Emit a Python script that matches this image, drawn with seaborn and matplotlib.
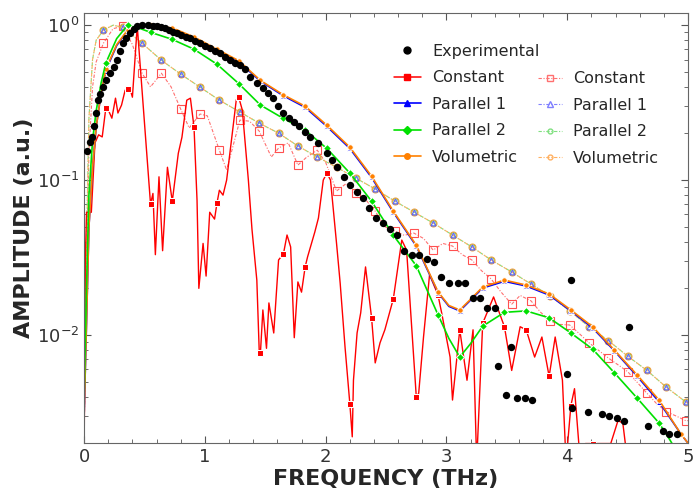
import numpy as np
import matplotlib
matplotlib.use('Agg')
import matplotlib.pyplot as plt
import seaborn as sns
from matplotlib.lines import Line2D

# marker positions (THz) of the model curves
mark_solid = [0.18, 0.36, 0.55, 0.73, 0.91, 1.10, 1.28, 1.46, 1.65, 1.83, 2.01, 2.20, 2.38, 2.56,
              2.75, 2.93, 3.11, 3.30, 3.48, 3.66, 3.85, 4.03, 4.21, 4.39, 4.58, 4.76, 4.94]
mark_dash = [0.16, 0.32, 0.48, 0.64, 0.80, 0.96, 1.12, 1.29, 1.45, 1.61, 1.77, 1.93, 2.09, 2.25, 2.41,
             2.57, 2.73, 2.89, 3.05, 3.21, 3.37, 3.54, 3.70, 3.86, 4.02, 4.18, 4.34, 4.50, 4.66, 4.82, 4.98]

# Experimental
exp_x = [0.025, 0.045, 0.066, 0.083, 0.10, 0.116, 0.135, 0.157, 0.185, 0.215, 0.245, 0.273, 0.30, 0.323,
         0.35, 0.381, 0.41, 0.439, 0.48, 0.53, 0.57, 0.604, 0.64, 0.67, 0.70, 0.737, 0.77, 0.80, 0.84,
         0.877, 0.92, 0.96, 1.0, 1.043, 1.085, 1.126, 1.17, 1.209, 1.25, 1.291, 1.33, 1.374, 1.432,
         1.482, 1.523, 1.565, 1.606, 1.647, 1.697, 1.74, 1.78, 1.83, 1.871, 1.937, 2.012, 2.05, 2.094,
         2.15, 2.20, 2.26, 2.31, 2.36, 2.417, 2.475, 2.533, 2.591, 2.649, 2.715, 2.773, 2.839, 2.897,
         2.955, 3.02, 3.093, 3.154, 3.223, 3.278, 3.339, 3.402, 3.43, 3.49, 3.532, 3.587, 3.65, 3.71,
         3.995, 4.03, 4.042, 4.169, 4.285, 4.349, 4.41, 4.47, 4.515, 4.67, 4.79, 4.845, 4.906]
exp_y = [0.155, 0.175, 0.19, 0.223, 0.27, 0.328, 0.36, 0.398, 0.44, 0.49, 0.54, 0.594, 0.68, 0.765,
         0.83, 0.888, 0.94, 0.986, 1.0, 1.0, 0.99, 0.985, 0.97, 0.956, 0.93, 0.90, 0.89, 0.87, 0.84,
         0.824, 0.79, 0.765, 0.735, 0.71, 0.685, 0.66, 0.625, 0.594, 0.572, 0.552, 0.52, 0.46, 0.423,
         0.392, 0.364, 0.338, 0.30, 0.27, 0.251, 0.237, 0.223, 0.205, 0.189, 0.173, 0.149, 0.135, 0.121,
         0.105, 0.093, 0.084, 0.0765, 0.066, 0.057, 0.053, 0.048, 0.044, 0.035, 0.033, 0.0328, 0.031, 0.0295,
         0.0237, 0.0216, 0.0218, 0.0218, 0.0172, 0.0172, 0.015, 0.015, 0.0063, 0.0041, 0.0083, 0.0039, 0.0039, 0.0038,
         0.0056, 0.0226, 0.0034, 0.0032, 0.0031, 0.0030, 0.0029, 0.0028, 0.0113, 0.0026, 0.0024, 0.0023, 0.0023]

# Constant (solid)
const_x = [0.0, 0.01, 0.02, 0.06, 0.09, 0.12, 0.15, 0.18, 0.20, 0.23, 0.26, 0.28, 0.31, 0.34, 0.36, 0.38,
           0.40, 0.44, 0.55, 0.57, 0.59, 0.62, 0.65, 0.69, 0.73, 0.78, 0.81, 0.85, 0.88, 0.91, 0.935, 0.95,
           0.985, 1.01, 1.04, 1.08, 1.10, 1.12, 1.15, 1.18, 1.23, 1.26, 1.28, 1.31, 1.36, 1.39, 1.43, 1.45,
           1.46, 1.48, 1.51, 1.53, 1.57, 1.61, 1.65, 1.68, 1.71, 1.74, 1.77, 1.80, 1.83, 1.85, 1.91, 1.94,
           1.98, 2.01, 2.04, 2.09, 2.12, 2.16, 2.20, 2.22, 2.23, 2.26, 2.29, 2.33, 2.38, 2.41, 2.45, 2.49,
           2.56, 2.63, 2.67, 2.75, 2.77, 2.81, 2.86, 2.93, 2.96, 3.03, 3.05, 3.11, 3.17, 3.22, 3.25, 3.30,
           3.39, 3.48, 3.54, 3.61, 3.66, 3.73, 3.79, 3.85, 3.90, 3.96, 3.99, 4.03, 4.06, 4.10, 4.15, 4.21,
           4.36, 4.42, 4.46, 4.50]
const_y = [0.0015, 0.03, 0.062, 0.062, 0.174, 0.196, 0.19, 0.292, 0.284, 0.251, 0.338, 0.271, 0.305, 0.381,
           0.386, 0.39, 0.343, 0.99, 0.07, 0.082, 0.033, 0.105, 0.035, 0.121, 0.073, 0.149, 0.189, 0.328,
           0.338, 0.22, 0.074, 0.020, 0.039, 0.024, 0.062, 0.056, 0.071, 0.086, 0.080, 0.10, 0.21, 0.33,
           0.343, 0.283, 0.10, 0.048, 0.0226, 0.0078, 0.0077, 0.0145, 0.0082, 0.0161, 0.0103, 0.0305,
           0.0333, 0.0442, 0.037, 0.0096, 0.022, 0.0189, 0.0275, 0.0319, 0.0462, 0.0569, 0.10, 0.111,
           0.10, 0.039, 0.0216, 0.0084, 0.0036, 0.0022, 0.0051, 0.0103, 0.0139, 0.0275, 0.0129, 0.0066,
           0.0089, 0.0108, 0.0171, 0.041, 0.0353, 0.0040, 0.0042, 0.0097, 0.0245, 0.0181, 0.0139, 0.0072,
           0.0038, 0.0108, 0.0051, 0.0108, 0.0015, 0.0119, 0.0176, 0.0113, 0.0059, 0.0113, 0.0108, 0.0072,
           0.0097, 0.0054, 0.0097, 0.0051, 0.0015, 0.0035, 0.0045, 0.0018, 0.00199, 0.00199, 0.00199,
           0.0028, 0.0027, 0.0015]

# Parallel 1 / Volumetric / Parallel 2 (solid)
vol_x = [0.0, 0.02, 0.04, 0.07, 0.10, 0.14, 0.18, 0.27, 0.36, 0.45, 0.55, 0.73, 0.91, 1.10, 1.28, 1.46,
         1.65, 1.83, 2.01, 2.20, 2.38, 2.56, 2.75, 2.93, 3.02, 3.11, 3.20, 3.30, 3.48, 3.66, 3.85, 4.03,
         4.21, 4.39, 4.58, 4.76, 4.94, 5.0]
vol_y = [0.003, 0.012, 0.05, 0.12, 0.22, 0.36, 0.52, 0.75, 0.93, 0.99, 1.0, 0.96, 0.84, 0.70, 0.59,
         0.44, 0.355, 0.30, 0.226, 0.163, 0.106, 0.063, 0.038, 0.019, 0.0155, 0.0145, 0.017, 0.0204,
         0.0226, 0.021, 0.0184, 0.0145, 0.0113, 0.008, 0.0055, 0.0038, 0.0023, 0.002]
par1_y = [0.003, 0.012, 0.05, 0.12, 0.22, 0.36, 0.51, 0.74, 0.92, 0.98, 0.99, 0.95, 0.83, 0.69, 0.58,
          0.435, 0.35, 0.295, 0.222, 0.16, 0.104, 0.062, 0.0375, 0.0188, 0.0153, 0.0143, 0.0168, 0.0201,
          0.0222, 0.0207, 0.0181, 0.0143, 0.0111, 0.0079, 0.0054, 0.0037, 0.0023, 0.002]
par2_x = [0.0, 0.02, 0.04, 0.07, 0.10, 0.14, 0.18, 0.27, 0.36, 0.45, 0.55, 0.73, 0.91, 1.10, 1.28, 1.46,
          1.65, 1.83, 2.01, 2.20, 2.38, 2.56, 2.75, 2.93, 3.02, 3.11, 3.20, 3.30, 3.48, 3.66, 3.85, 4.03,
          4.21, 4.39, 4.58, 4.76, 4.85, 4.90]
par2_y = [0.004, 0.02, 0.08, 0.18, 0.28, 0.42, 0.57, 0.82, 1.0, 0.96, 0.9, 0.81, 0.70, 0.56, 0.42,
          0.305, 0.25, 0.21, 0.16, 0.111, 0.073, 0.044, 0.028, 0.0135, 0.0095, 0.0072, 0.0088, 0.0114,
          0.014, 0.0143, 0.0129, 0.0103, 0.0081, 0.0057, 0.0039, 0.0027, 0.0021, 0.0018]

# dashed set
dconst_x = [0.0, 0.02, 0.04, 0.07, 0.10, 0.16, 0.24, 0.32, 0.40, 0.48, 0.55, 0.64, 0.72, 0.80, 0.87, 0.96,
            1.02, 1.12, 1.18, 1.29, 1.37, 1.45, 1.55, 1.61, 1.69, 1.77, 1.84, 1.93, 2.0, 2.09, 2.17, 2.25,
            2.33, 2.41, 2.49, 2.57, 2.65, 2.73, 2.81, 2.89, 2.97, 3.05, 3.13, 3.21, 3.29, 3.37, 3.45, 3.54,
            3.61, 3.70, 3.78, 3.86, 3.94, 4.02, 4.10, 4.18, 4.34, 4.50, 4.66, 4.74, 4.82, 4.90, 4.98, 5.0]
dconst_y = [0.002, 0.03, 0.15, 0.4, 0.58, 0.765, 0.95, 0.985, 0.75, 0.49, 0.40, 0.49, 0.40, 0.287, 0.217,
            0.267, 0.26, 0.156, 0.116, 0.244, 0.24, 0.207, 0.141, 0.161, 0.174, 0.125, 0.14, 0.156, 0.13,
            0.085, 0.095, 0.082, 0.075, 0.063, 0.05, 0.047, 0.044, 0.0455, 0.042, 0.0353, 0.039, 0.0375,
            0.033, 0.0305, 0.026, 0.023, 0.019, 0.0158, 0.018, 0.0166, 0.014, 0.0123, 0.0117, 0.0116,
            0.0102, 0.0089, 0.0071, 0.0058, 0.0042, 0.0036, 0.0032, 0.0030, 0.0028, 0.0028]
dmod_x = [0.0, 0.02, 0.04, 0.07, 0.10, 0.16, 0.24, 0.32, 0.48, 0.64, 0.80, 0.96, 1.12, 1.29, 1.45, 1.61,
          1.77, 1.93, 2.09, 2.25, 2.41, 2.57, 2.73, 2.89, 3.05, 3.21, 3.37, 3.54, 3.70, 3.86, 4.02, 4.18,
          4.34, 4.50, 4.66, 4.82, 4.98, 5.0]
dmod_y = [0.003, 0.04, 0.25, 0.6, 0.8, 0.93, 1.0, 0.97, 0.765, 0.594, 0.483, 0.398, 0.328, 0.275, 0.233,
          0.201, 0.166, 0.141, 0.121, 0.103, 0.0875, 0.0733, 0.0622, 0.0528, 0.0442, 0.037, 0.0305,
          0.0255, 0.0213, 0.0179, 0.0143, 0.0113, 0.0092, 0.0073, 0.0059, 0.0046, 0.0037, 0.0036]


def mk(xs, marks):
    return [i for i, x in enumerate(xs) if np.isclose(x, marks).any()]


sns.set_style('ticks')
plt.rcParams['font.family'] = ['DejaVu Sans']
fig = plt.figure(figsize=(6.95, 4.98), dpi=100)
ax = fig.add_axes([0.121, 0.110, 0.869, 0.864])
ax.set_yscale('log')

dash = (0, (3, 1.5, 1, 1.5))
# dashed models
sns.lineplot(x=dconst_x, y=dconst_y, ax=ax, color='#ff7070', lw=0.8, linestyle=dash, marker='s',
             ms=6, mfc='none', mec='#ff5050', mew=0.8, markevery=mk(dconst_x, mark_dash),
             estimator=None, sort=False)
sns.lineplot(x=dmod_x, y=dmod_y, ax=ax, color='#80e080', lw=0.8, linestyle=dash, marker='o',
             ms=4, mfc='none', mec='#60d060', mew=0.8, markevery=mk(dmod_x, mark_dash),
             estimator=None, sort=False)
sns.lineplot(x=dmod_x, y=dmod_y, ax=ax, color='#ffb060', lw=0.8, linestyle=(2, (3, 1.5, 1, 1.5)),
             marker='o', ms=5, mfc='none', mec='#f0a040', mew=0.8, markevery=mk(dmod_x, mark_dash),
             estimator=None, sort=False)
sns.lineplot(x=dmod_x, y=dmod_y, ax=ax, color='#8080ff', lw=0.0, marker='^',
             ms=3.5, mfc='none', mec='#6060ff', mew=0.8, markevery=mk(dmod_x, mark_dash),
             estimator=None, sort=False)

# experimental
sns.scatterplot(x=exp_x, y=exp_y, ax=ax, color='black', s=28, linewidth=0, zorder=3)

# solid models
sns.lineplot(x=const_x, y=const_y, ax=ax, color='#ff0000', lw=1.0, marker='s', ms=5,
             markevery=mk(const_x, mark_solid), estimator=None, sort=False)
sns.lineplot(x=vol_x, y=par1_y, ax=ax, color='#0000ff', lw=1.2, marker='^', ms=4,
             markevery=mk(vol_x, mark_solid), estimator=None, sort=False)
sns.lineplot(x=vol_x, y=vol_y, ax=ax, color='#ff8000', lw=1.2, marker='o', ms=4,
             markevery=mk(vol_x, mark_solid), estimator=None, sort=False)
sns.lineplot(x=par2_x, y=par2_y, ax=ax, color='#00e000', lw=1.2, marker='D', ms=4,
             markevery=mk(par2_x, mark_solid), estimator=None, sort=False)

ax.set_xlim(0, 5)
ax.set_ylim(0.002, 1.2)
ax.set_xticks([0, 1, 2, 3, 4, 5])
ax.set_xticks(np.arange(0, 5.01, 0.2), minor=True)
ax.tick_params(which='both', direction='in', top=True, right=True, colors='#555555',
               labelcolor='#333333', labelsize=13)
ax.tick_params(which='major', length=5)
ax.tick_params(which='minor', length=3)
for s in ax.spines.values():
    s.set_color('#666666')
ax.set_xlabel('FREQUENCY (THz)', fontsize=16, fontweight='bold', labelpad=2)
ax.set_ylabel('AMPLITUDE (a.u.)', fontsize=16, fontweight='bold', labelpad=2)

h1 = [Line2D([], [], color='black', marker='o', ls='none', ms=5),
      Line2D([], [], color='#ff0000', marker='s', ms=5, lw=1.1),
      Line2D([], [], color='#0000ff', marker='^', ms=4, lw=1.2),
      Line2D([], [], color='#00e000', marker='D', ms=4, lw=1.2),
      Line2D([], [], color='#ff8000', marker='o', ms=4, lw=1.2)]
l1 = ['Experimental', 'Constant', 'Parallel 1', 'Parallel 2', 'Volumetric']
h2 = [Line2D([], [], color='#ff7070', marker='s', ms=5, mfc='none', lw=0.8, ls=dash),
      Line2D([], [], color='#8080ff', marker='^', ms=4, mfc='none', lw=0.8, ls=dash),
      Line2D([], [], color='#80e080', marker='o', ms=3.5, mfc='none', lw=0.8, ls=dash),
      Line2D([], [], color='#ffb060', marker='o', ms=3.5, mfc='none', lw=0.8, ls=dash)]
l2 = ['Constant', 'Parallel 1', 'Parallel 2', 'Volumetric']

leg1 = fig.legend(h1, l1, loc='upper left', bbox_to_anchor=(0.555, 0.928), frameon=False,
                  fontsize=11.5, handlelength=1.7, handletextpad=0.7, labelspacing=0.72, borderpad=0)
leg2 = fig.legend(h2, l2, loc='upper left', bbox_to_anchor=(0.7625, 0.873), frameon=False,
                  fontsize=11.5, handlelength=1.5, handletextpad=0.7, labelspacing=0.72, borderpad=0)

fig.savefig('out.png', dpi=100)
